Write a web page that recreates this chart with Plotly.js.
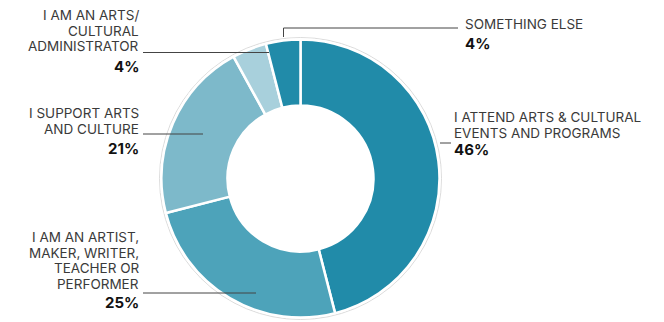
<!DOCTYPE html>
<html><head><meta charset="utf-8">
<script src="https://cdn.plot.ly/plotly-3.0.1.min.js"></script>
<style>html,body{margin:0;padding:0;background:#fff}#chart{width:664px;height:322px}</style>
</head><body><div id="chart"></div>
<script>
const categories = ["I ATTEND ARTS & CULTURAL EVENTS AND PROGRAMS","I AM AN ARTIST, MAKER, WRITER, TEACHER OR PERFORMER","I SUPPORT ARTS AND CULTURE","I AM AN ARTS/ CULTURAL ADMINISTRATOR","SOMETHING ELSE"];
const values = [46, 25, 21, 4, 4];
const percentLabels = ["46%","25%","21%","4%","4%"];
const labelLines = [
  ["I ATTEND ARTS & CULTURAL", "EVENTS AND PROGRAMS"],
  ["I AM AN ARTIST,", "MAKER, WRITER,", "TEACHER OR", "PERFORMER"],
  ["I SUPPORT ARTS", "AND CULTURE"],
  ["I AM AN ARTS/", "CULTURAL", "ADMINISTRATOR"],
  ["SOMETHING ELSE"]
];
const colors = ["#218BA9","#4DA3BA","#7DB9CA","#A8D0DC","#218BA9"];

const W = 664, H = 322;
const cx = 300.5, cy = 178.5, R = 139;
const px = x => x / W, py = y => 1 - y / H;

const FONT = "Inter, 'DejaVu Sans', sans-serif";
const txtFont = {family: FONT, size: 13.5, color: "#3a3a3a"};
const pctFont = {family: FONT, size: 15, color: "#111"};

// label layout: x, first line y, line step, anchor, percent y
const labelPos = [
  {x: 452, y0: 117, dy: 16,   xa: "left",  py: 149.5},
  {x: 141, y0: 237, dy: 15.7, xa: "right", py: 302.5},
  {x: 141, y0: 113, dy: 16,   xa: "right", py: 148},
  {x: 141, y0: 15,  dy: 15.7, xa: "right", py: 66},
  {x: 463, y0: 24,  dy: 16,   xa: "left",  py: 43.5}
];

const annotations = [];
labelLines.forEach((lines, i) => {
  const p = labelPos[i];
  lines.forEach((t, k) => {
    annotations.push({text: t, x: px(p.x), y: py(p.y0 + k * p.dy), xref: "paper", yref: "paper",
      xanchor: p.xa, yanchor: "middle", align: p.xa, showarrow: false, font: txtFont});
  });
  annotations.push({text: "<b>" + percentLabels[i] + "</b>", x: px(p.x), y: py(p.py), xref: "paper", yref: "paper",
    xanchor: p.xa, yanchor: "middle", align: p.xa, showarrow: false, font: pctFont});
});

const lineStyle = {color: "#444", width: 1};
const seg = (x0, y0, x1, y1) => ({type: "line", xref: "paper", yref: "paper",
  x0: px(x0), y0: py(y0), x1: px(x1), y1: py(y1), line: lineStyle, layer: "above"});
const shapes = [
  {type: "circle", xref: "paper", yref: "paper", x0: px(cx - R - 2), x1: px(cx + R + 2),
   y0: py(cy + R + 2), y1: py(cy - R - 2), line: {color: "#dcdcdc", width: 1}, layer: "below"},
  seg(440, 143, 451, 143),
  seg(143, 293, 256, 293),
  seg(143, 134, 203, 134),
  seg(143, 52.5, 269, 52.5),
  seg(283.5, 28, 458, 28),
  seg(283.5, 28, 283.5, 37)
];

const trace = {
  type: "pie", labels: categories, values: values, sort: false,
  direction: "clockwise", rotation: 0, hole: 0.525,
  marker: {colors: colors, line: {color: "#ffffff", width: 2.5}},
  textinfo: "none", hoverinfo: "none", showlegend: false,
  domain: {x: [px(cx - R), px(cx + R)], y: [py(cy + R), py(cy - R)]}
};

Plotly.newPlot("chart", [trace], {
  width: W, height: H, margin: {l: 0, r: 0, t: 0, b: 0},
  paper_bgcolor: "#fff", plot_bgcolor: "#fff",
  annotations: annotations, shapes: shapes, showlegend: false
}, {staticPlot: true, displayModeBar: false});
</script></body></html>
